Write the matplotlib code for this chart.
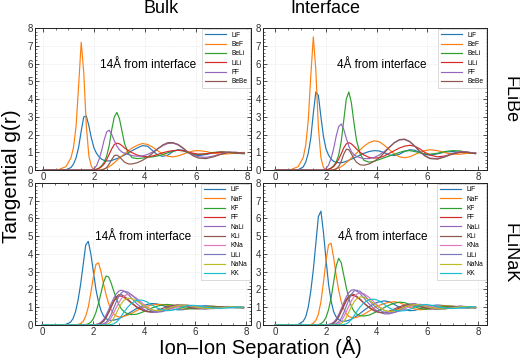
import matplotlib
matplotlib.use("Agg")
import matplotlib.pyplot as plt
import numpy as np
from matplotlib.ticker import AutoMinorLocator

plt.rcParams['font.family'] = ['Liberation Sans', 'DejaVu Sans']

# shared radial grid (Angstrom)
r = [0.0, 0.6, 0.9, 1.1, 1.2, 1.3, 1.4, 1.5, 1.6, 1.7, 1.8, 1.9,
     2.0, 2.1, 2.2, 2.3, 2.4, 2.5, 2.6, 2.7, 2.8, 2.9,
     3.0, 3.1, 3.2, 3.35, 3.5, 3.7, 3.9,
     4.1, 4.3, 4.5, 4.7, 4.9, 5.1, 5.3, 5.5, 5.7, 5.9,
     6.1, 6.4, 6.7, 7.0, 7.3, 7.6, 7.9]

flibe_labels = ["LiF", "BeF", "BeLi", "LiLi", "FF", "BeBe"]
flinak_labels = ["LiF", "NaF", "KF", "FF", "NaLi", "KLi", "KNa", "LiLi", "NaNa", "KK"]

# ---- FLiBe, bulk (14 A from interface)
bulk_flibe_LiF = [0, 0, 0.02, 0.15, 0.35, 0.7, 1.3, 2.2, 3.0, 3.05, 2.5, 1.8,
                  1.25, 0.95, 0.75, 0.62, 0.55, 0.52, 0.52, 0.55, 0.6, 0.65,
                  0.7, 0.78, 0.85, 0.98, 1.1, 1.25, 1.38,
                  1.35, 1.1, 0.85, 0.78, 0.85, 1.05, 1.15, 1.12, 1.0, 0.88,
                  0.82, 0.88, 0.98, 1.02, 1.0, 0.95, 0.95]
bulk_flibe_BeF = [0, 0.02, 0.2, 0.7, 1.3, 2.5, 4.8, 7.2, 5.5, 2.5, 0.8, 0.2,
                  0.03, 0, 0, 0.02, 0.06, 0.12, 0.2, 0.3, 0.42, 0.55,
                  0.68, 0.8, 0.92, 1.1, 1.25, 1.4, 1.5,
                  1.45, 1.3, 1.1, 0.9, 0.78, 0.75, 0.8, 0.9, 1.0, 1.08,
                  1.1, 1.05, 0.95, 0.9, 0.92, 0.98, 1.0]
bulk_flibe_BeLi = [0, 0, 0, 0, 0, 0, 0, 0, 0, 0, 0, 0,
                   0.02, 0.05, 0.12, 0.25, 0.45, 0.8, 1.4, 2.3, 3.0, 3.25,
                   2.9, 2.2, 1.5, 0.95, 0.7, 0.65, 0.68,
                   0.72, 0.75, 0.8, 0.88, 0.98, 1.08, 1.12, 1.08, 0.98, 0.9,
                   0.88, 0.92, 1.0, 1.02, 1.0, 0.95, 0.92]
bulk_flibe_LiLi = [0, 0, 0, 0, 0, 0, 0, 0, 0, 0, 0, 0,
                   0.02, 0.05, 0.1, 0.2, 0.35, 0.6, 0.9, 1.2, 1.45, 1.52,
                   1.48, 1.38, 1.25, 1.1, 0.98, 0.85, 0.78,
                   0.75, 0.8, 0.88, 0.98, 1.05, 1.1, 1.12, 1.1, 1.02, 0.95,
                   0.9, 0.92, 0.98, 1.02, 1.0, 0.97, 0.95]
bulk_flibe_FF = [0, 0, 0, 0, 0, 0, 0, 0, 0, 0, 0, 0.02,
                 0.08, 0.25, 0.6, 1.1, 1.7, 2.15, 2.25, 2.0, 1.65, 1.35,
                 1.15, 1.02, 0.95, 0.88, 0.82, 0.78, 0.8,
                 0.88, 1.02, 1.2, 1.38, 1.5, 1.52, 1.42, 1.22, 1.0, 0.85,
                 0.75, 0.72, 0.8, 0.92, 1.02, 1.0, 0.95]
bulk_flibe_BeBe = [0, 0, 0, 0, 0, 0, 0, 0, 0, 0, 0, 0,
                   0, 0, 0, 0.02, 0.06, 0.15, 0.35, 0.6, 0.82, 0.85,
                   0.75, 0.6, 0.45, 0.35, 0.35, 0.42, 0.55,
                   0.72, 0.95, 1.2, 1.42, 1.55, 1.55, 1.45, 1.25, 1.0, 0.8,
                   0.68, 0.65, 0.75, 0.9, 1.0, 1.0, 0.95]

# ---- FLiBe, interface (4 A from interface)
intf_flibe_LiF = [0, 0, 0.02, 0.18, 0.45, 0.95, 1.8, 3.2, 4.4, 4.2, 3.0, 1.9,
                  1.2, 0.85, 0.62, 0.5, 0.44, 0.42, 0.42, 0.45, 0.5, 0.56,
                  0.62, 0.68, 0.75, 0.85, 0.95, 1.05, 1.1,
                  1.08, 0.98, 0.85, 0.82, 0.9, 1.05, 1.15, 1.12, 1.0, 0.88,
                  0.85, 0.92, 1.02, 1.05, 1.0, 0.95, 0.95]
intf_flibe_BeF = [0, 0.02, 0.2, 0.7, 1.4, 2.8, 5.3, 7.5, 5.6, 2.4, 0.7, 0.15,
                  0.02, 0, 0, 0.02, 0.06, 0.12, 0.2, 0.3, 0.42, 0.55,
                  0.68, 0.82, 0.95, 1.15, 1.35, 1.55, 1.65,
                  1.6, 1.4, 1.15, 0.9, 0.75, 0.7, 0.75, 0.88, 1.0, 1.1,
                  1.15, 1.1, 0.98, 0.9, 0.9, 0.95, 0.98]
intf_flibe_BeLi = [0, 0, 0, 0, 0, 0, 0, 0, 0, 0, 0, 0,
                   0.02, 0.05, 0.12, 0.25, 0.45, 0.85, 1.6, 2.8, 4.0, 4.4,
                   3.8, 2.7, 1.7, 0.9, 0.55, 0.45, 0.5,
                   0.6, 0.7, 0.8, 0.9, 1.0, 1.08, 1.1, 1.05, 0.98, 0.92,
                   0.9, 0.95, 1.05, 1.1, 1.08, 1.0, 0.95]
intf_flibe_LiLi = [0, 0, 0, 0, 0, 0, 0, 0, 0, 0, 0, 0,
                   0.02, 0.05, 0.1, 0.2, 0.38, 0.62, 0.92, 1.25, 1.48, 1.55,
                   1.48, 1.35, 1.2, 1.0, 0.85, 0.72, 0.68,
                   0.7, 0.8, 0.95, 1.1, 1.25, 1.35, 1.4, 1.35, 1.2, 1.0,
                   0.85, 0.75, 0.8, 0.92, 1.0, 1.0, 0.95]
intf_flibe_FF = [0, 0, 0, 0, 0, 0, 0, 0, 0, 0, 0, 0.02,
                 0.08, 0.28, 0.65, 1.2, 1.9, 2.45, 2.6, 2.3, 1.8, 1.35,
                 1.05, 0.88, 0.78, 0.7, 0.65, 0.65, 0.72,
                 0.85, 1.05, 1.3, 1.55, 1.7, 1.72, 1.6, 1.35, 1.05, 0.82,
                 0.68, 0.65, 0.78, 0.95, 1.05, 1.02, 0.95]
intf_flibe_BeBe = [0, 0, 0, 0, 0, 0, 0, 0, 0, 0, 0, 0,
                   0, 0, 0, 0.02, 0.08, 0.2, 0.5, 0.9, 1.18, 1.15,
                   0.92, 0.65, 0.45, 0.3, 0.28, 0.35, 0.5,
                   0.7, 0.98, 1.28, 1.55, 1.72, 1.75, 1.62, 1.35, 1.05, 0.8,
                   0.65, 0.62, 0.75, 0.92, 1.02, 1.0, 0.92]

# ---- FLiNaK, bulk
bulk_flinak_LiF = [0, 0, 0.02, 0.15, 0.35, 0.75, 1.4, 2.3, 3.4, 4.5, 4.7, 4.0,
                   3.0, 2.0, 1.3, 0.8, 0.5, 0.35, 0.28, 0.25, 0.27, 0.3,
                   0.35, 0.42, 0.5, 0.62, 0.75, 0.92, 1.05,
                   1.15, 1.2, 1.18, 1.1, 1.0, 0.9, 0.85, 0.85, 0.9, 0.98,
                   1.05, 1.08, 1.05, 1.0, 0.97, 0.96, 0.97]
bulk_flinak_NaF = [0, 0, 0, 0, 0, 0, 0.02, 0.08, 0.2, 0.5, 1.0, 1.8,
                   2.7, 3.4, 3.5, 3.0, 2.3, 1.7, 1.2, 0.85, 0.62, 0.5,
                   0.45, 0.45, 0.48, 0.55, 0.65, 0.8, 0.95,
                   1.05, 1.12, 1.15, 1.15, 1.1, 1.02, 0.95, 0.9, 0.9, 0.93,
                   0.98, 1.03, 1.05, 1.02, 1.0, 0.98, 0.97]
bulk_flinak_KF = [0, 0, 0, 0, 0, 0, 0, 0, 0, 0.02, 0.06, 0.15,
                  0.35, 0.7, 1.2, 1.8, 2.4, 2.75, 2.7, 2.35, 1.9, 1.5,
                  1.15, 0.9, 0.75, 0.62, 0.58, 0.6, 0.7,
                  0.82, 0.95, 1.05, 1.12, 1.15, 1.12, 1.05, 0.98, 0.92, 0.9,
                  0.92, 0.98, 1.02, 1.02, 1.0, 0.98, 0.97]
bulk_flinak_FF = [0, 0, 0, 0, 0, 0, 0, 0, 0, 0, 0, 0,
                  0, 0.02, 0.05, 0.12, 0.25, 0.45, 0.7, 1.0, 1.3, 1.52,
                  1.62, 1.62, 1.55, 1.4, 1.22, 1.0, 0.85,
                  0.75, 0.72, 0.75, 0.82, 0.92, 1.0, 1.05, 1.08, 1.05, 1.0,
                  0.95, 0.92, 0.95, 1.0, 1.02, 1.0, 0.98]
bulk_flinak_NaLi = [0, 0, 0, 0, 0, 0, 0, 0, 0, 0, 0, 0,
                    0, 0.02, 0.06, 0.15, 0.3, 0.55, 0.85, 1.2, 1.5, 1.75,
                    1.9, 1.95, 1.9, 1.75, 1.5, 1.2, 0.95,
                    0.78, 0.7, 0.72, 0.8, 0.92, 1.05, 1.12, 1.12, 1.05, 0.98,
                    0.92, 0.9, 0.95, 1.02, 1.04, 1.0, 0.96]
bulk_flinak_KLi = [0, 0, 0, 0, 0, 0, 0, 0, 0, 0, 0, 0,
                   0, 0, 0.02, 0.08, 0.2, 0.4, 0.7, 1.05, 1.35, 1.58,
                   1.7, 1.7, 1.62, 1.45, 1.25, 1.02, 0.85,
                   0.75, 0.75, 0.82, 0.92, 1.02, 1.1, 1.12, 1.08, 1.0, 0.93,
                   0.9, 0.92, 0.98, 1.03, 1.03, 1.0, 0.97]
bulk_flinak_KNa = [0, 0, 0, 0, 0, 0, 0, 0, 0, 0, 0, 0,
                   0, 0, 0, 0, 0.02, 0.08, 0.2, 0.4, 0.68, 0.98,
                   1.25, 1.48, 1.62, 1.72, 1.68, 1.5, 1.25,
                   1.02, 0.85, 0.75, 0.75, 0.82, 0.92, 1.02, 1.1, 1.12, 1.08,
                   1.02, 0.95, 0.92, 0.95, 1.0, 1.02, 1.0]
bulk_flinak_LiLi = [0, 0, 0, 0, 0, 0, 0, 0, 0, 0, 0, 0,
                    0, 0, 0, 0.02, 0.06, 0.15, 0.32, 0.6, 0.95, 1.3,
                    1.6, 1.8, 1.9, 1.85, 1.7, 1.42, 1.15,
                    0.92, 0.78, 0.72, 0.75, 0.85, 0.98, 1.08, 1.12, 1.1, 1.03,
                    0.96, 0.9, 0.92, 0.98, 1.03, 1.02, 0.98]
bulk_flinak_NaNa = [0, 0, 0, 0, 0, 0, 0, 0, 0, 0, 0, 0,
                    0, 0, 0, 0, 0, 0.02, 0.07, 0.18, 0.38, 0.65,
                    0.95, 1.2, 1.38, 1.5, 1.48, 1.35, 1.15,
                    0.98, 0.85, 0.8, 0.82, 0.9, 1.0, 1.08, 1.12, 1.1, 1.05,
                    0.98, 0.93, 0.93, 0.97, 1.01, 1.02, 1.0]
bulk_flinak_KK = [0, 0, 0, 0, 0, 0, 0, 0, 0, 0, 0, 0,
                  0, 0, 0, 0, 0, 0, 0, 0.02, 0.06, 0.15,
                  0.3, 0.5, 0.72, 1.0, 1.22, 1.38, 1.4,
                  1.3, 1.12, 0.95, 0.85, 0.8, 0.82, 0.9, 1.0, 1.08, 1.1,
                  1.08, 1.0, 0.95, 0.93, 0.96, 1.0, 1.0]

# ---- FLiNaK, interface
intf_flinak_LiF = [0, 0, 0.02, 0.2, 0.45, 1.0, 1.9, 3.1, 4.6, 6.1, 6.4, 5.2,
                   3.7, 2.3, 1.35, 0.75, 0.45, 0.3, 0.22, 0.2, 0.22, 0.26,
                   0.32, 0.4, 0.5, 0.65, 0.82, 1.02, 1.2,
                   1.3, 1.35, 1.3, 1.15, 0.98, 0.85, 0.8, 0.82, 0.9, 1.0,
                   1.08, 1.12, 1.08, 1.0, 0.95, 0.95, 0.98]
intf_flinak_NaF = [0, 0, 0, 0, 0, 0, 0.02, 0.1, 0.25, 0.6, 1.3, 2.4,
                   3.6, 4.5, 4.6, 3.8, 2.8, 1.95, 1.3, 0.9, 0.62, 0.48,
                   0.42, 0.4, 0.42, 0.5, 0.6, 0.78, 0.95,
                   1.1, 1.2, 1.28, 1.3, 1.25, 1.12, 1.0, 0.9, 0.85, 0.88,
                   0.95, 1.05, 1.08, 1.05, 1.0, 0.97, 0.97]
intf_flinak_KF = [0, 0, 0, 0, 0, 0, 0, 0, 0, 0.02, 0.07, 0.18,
                  0.42, 0.85, 1.5, 2.4, 3.3, 3.75, 3.5, 2.8, 2.1, 1.5,
                  1.05, 0.78, 0.62, 0.52, 0.5, 0.55, 0.68,
                  0.82, 0.98, 1.12, 1.22, 1.28, 1.25, 1.15, 1.02, 0.92, 0.88,
                  0.9, 0.98, 1.05, 1.05, 1.0, 0.97, 0.97]
intf_flinak_FF = [0, 0, 0, 0, 0, 0, 0, 0, 0, 0, 0, 0,
                  0, 0.02, 0.05, 0.12, 0.25, 0.48, 0.75, 1.05, 1.35, 1.55,
                  1.65, 1.65, 1.58, 1.42, 1.22, 0.98, 0.8,
                  0.7, 0.68, 0.72, 0.82, 0.95, 1.05, 1.12, 1.12, 1.08, 1.0,
                  0.94, 0.9, 0.93, 1.0, 1.03, 1.02, 0.98]
intf_flinak_NaLi = [0, 0, 0, 0, 0, 0, 0, 0, 0, 0, 0, 0,
                    0, 0.02, 0.06, 0.15, 0.32, 0.58, 0.9, 1.25, 1.58, 1.82,
                    1.95, 1.98, 1.92, 1.75, 1.5, 1.18, 0.9,
                    0.72, 0.62, 0.62, 0.72, 0.88, 1.05, 1.18, 1.2, 1.12, 1.02,
                    0.93, 0.88, 0.92, 1.0, 1.05, 1.02, 0.97]
intf_flinak_KLi = [0, 0, 0, 0, 0, 0, 0, 0, 0, 0, 0, 0,
                   0, 0, 0.02, 0.08, 0.22, 0.45, 0.78, 1.12, 1.42, 1.62,
                   1.72, 1.72, 1.62, 1.45, 1.22, 0.98, 0.8,
                   0.7, 0.7, 0.78, 0.9, 1.02, 1.12, 1.15, 1.1, 1.02, 0.94,
                   0.9, 0.9, 0.96, 1.03, 1.05, 1.0, 0.96]
intf_flinak_KNa = [0, 0, 0, 0, 0, 0, 0, 0, 0, 0, 0, 0,
                   0, 0, 0, 0, 0.02, 0.08, 0.22, 0.45, 0.75, 1.05,
                   1.35, 1.58, 1.72, 1.8, 1.75, 1.55, 1.28,
                   1.02, 0.82, 0.7, 0.7, 0.78, 0.9, 1.02, 1.12, 1.16, 1.12,
                   1.05, 0.96, 0.92, 0.94, 1.0, 1.03, 1.0]
intf_flinak_LiLi = [0, 0, 0, 0, 0, 0, 0, 0, 0, 0, 0, 0,
                    0, 0, 0, 0.02, 0.07, 0.18, 0.38, 0.68, 1.05, 1.42,
                    1.72, 1.9, 1.95, 1.88, 1.68, 1.38, 1.08,
                    0.85, 0.7, 0.65, 0.7, 0.82, 0.98, 1.1, 1.15, 1.12, 1.05,
                    0.96, 0.88, 0.9, 0.98, 1.04, 1.03, 0.98]
intf_flinak_NaNa = [0, 0, 0, 0, 0, 0, 0, 0, 0, 0, 0, 0,
                    0, 0, 0, 0, 0, 0.02, 0.08, 0.2, 0.42, 0.72,
                    1.02, 1.28, 1.45, 1.58, 1.55, 1.4, 1.18,
                    0.98, 0.82, 0.75, 0.78, 0.88, 1.0, 1.1, 1.15, 1.12, 1.05,
                    0.98, 0.9, 0.9, 0.96, 1.02, 1.03, 1.0]
intf_flinak_KK = [0, 0, 0, 0, 0, 0, 0, 0, 0, 0, 0, 0,
                  0, 0, 0, 0, 0, 0, 0, 0.02, 0.06, 0.15,
                  0.3, 0.5, 0.72, 1.02, 1.25, 1.42, 1.45,
                  1.35, 1.15, 0.95, 0.82, 0.78, 0.8, 0.88, 1.0, 1.1, 1.15,
                  1.12, 1.02, 0.94, 0.92, 0.96, 1.01, 1.02]

colors = ['#1f77b4', '#ff7f0e', '#2ca02c', '#d62728', '#9467bd',
          '#8c564b', '#e377c2', '#7b78c0', '#bcbd22', '#17becf']

panels = [
    (flibe_labels, [bulk_flibe_LiF, bulk_flibe_BeF, bulk_flibe_BeLi,
                    bulk_flibe_LiLi, bulk_flibe_FF, bulk_flibe_BeBe],
     "14Å from interface", [0.067, 0.526, 0.416, 0.396], (-0.32, 8.17), (2.25, 5.9)),
    (flibe_labels, [intf_flibe_LiF, intf_flibe_BeF, intf_flibe_BeLi,
                    intf_flibe_LiLi, intf_flibe_FF, intf_flibe_BeBe],
     "4Å from interface", [0.506, 0.526, 0.431, 0.396], (-0.48, 8.36), (2.45, 5.9)),
    (flinak_labels, [bulk_flinak_LiF, bulk_flinak_NaF, bulk_flinak_KF, bulk_flinak_FF,
                     bulk_flinak_NaLi, bulk_flinak_KLi, bulk_flinak_KNa,
                     bulk_flinak_LiLi, bulk_flinak_NaNa, bulk_flinak_KK],
     "14Å from interface", [0.067, 0.095, 0.416, 0.396], (-0.3, 8.2), (2.07, 4.97)),
    (flinak_labels, [intf_flinak_LiF, intf_flinak_NaF, intf_flinak_KF, intf_flinak_FF,
                     intf_flinak_NaLi, intf_flinak_KLi, intf_flinak_KNa,
                     intf_flinak_LiLi, intf_flinak_NaNa, intf_flinak_KK],
     "4Å from interface", [0.506, 0.095, 0.431, 0.396], (-0.48, 8.36), (2.47, 4.97)),
]

fig = plt.figure(figsize=(5.2, 3.59), dpi=100)

for labels, series, note, rect, xlim, note_xy in panels:
    ax = fig.add_axes(rect)
    for lab, vals, c in zip(labels, series, colors):
        ax.plot(r, vals, color=c, lw=0.85, label=lab)
    ax.set_xlim(*xlim)
    ax.set_ylim(0, 8)
    ax.set_xticks([0, 2, 4, 6, 8])
    ax.set_yticks(range(0, 9))
    ax.xaxis.set_minor_locator(AutoMinorLocator(4))
    ax.yaxis.set_minor_locator(AutoMinorLocator(5))
    ax.tick_params(which='both', direction='in', top=True, right=True,
                   labelsize=7, colors='#333333', pad=1.5)
    ax.tick_params(which='major', length=3, width=0.6)
    ax.tick_params(which='minor', length=1.5, width=0.5)
    ax.grid(True, color='#dddddd', lw=0.5, ls=':')
    for s in ax.spines.values():
        s.set_linewidth(0.7)
        s.set_color('#222222')
    ax.text(note_xy[0], note_xy[1], note, fontsize=8.5, ha='left', va='center')
    leg = ax.legend(loc='upper right', fontsize=4.8, handlelength=3.2,
                    labelspacing=0.35, borderpad=0.4, handletextpad=0.8,
                    borderaxespad=0.15, fancybox=False, edgecolor='#cccccc',
                    framealpha=1)
    leg.get_frame().set_linewidth(0.5)

fig.text(0.31, 0.975, "Bulk", fontsize=13, ha='center', va='center')
fig.text(0.625, 0.975, "Interface", fontsize=13, ha='center', va='center')
fig.text(0.981, 0.724, "FLiBe", fontsize=13, ha='center', va='center', rotation=-90)
fig.text(0.981, 0.295, "FLiNaK", fontsize=13, ha='center', va='center', rotation=-90)
fig.text(0.022, 0.51, "Tangential g(r)", fontsize=15, ha='center', va='center', rotation=90)
fig.text(0.5, 0.004, "Ion\u2013Ion Separation (Å)", fontsize=14.5, ha='center', va='bottom')

fig.savefig("out.png", dpi=100)
